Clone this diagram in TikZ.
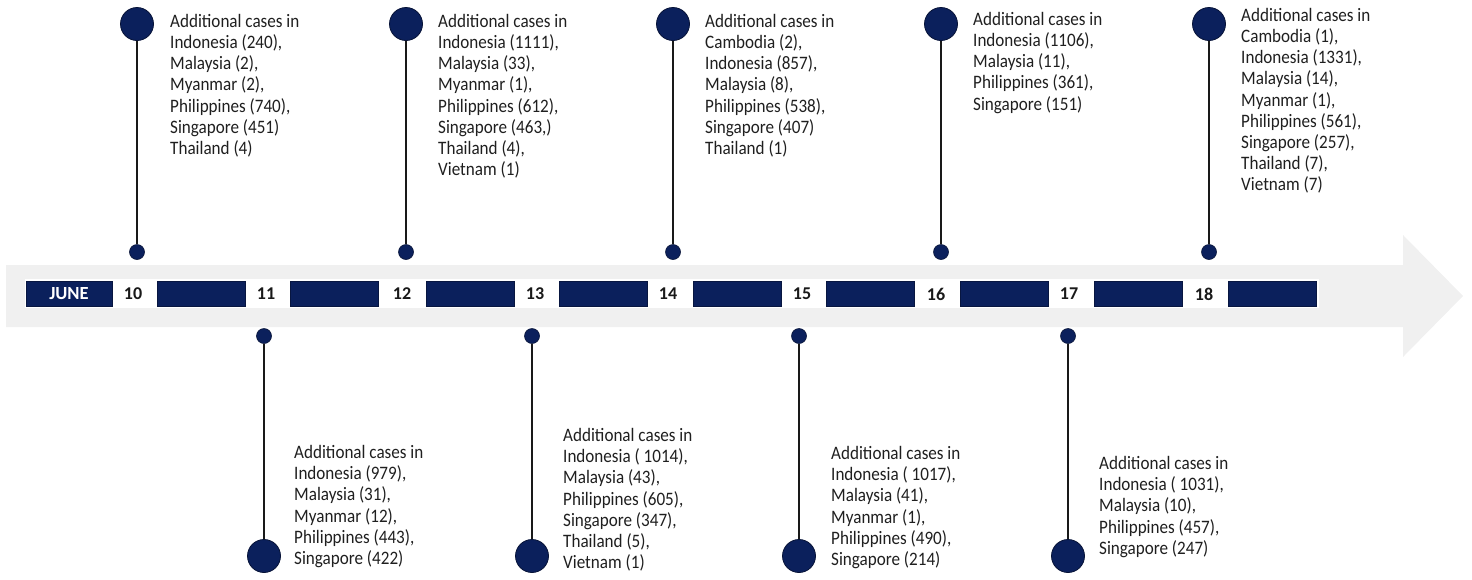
\documentclass[tikz,border=0pt]{standalone}
\usepackage{fontspec}
\setmainfont{Carlito}
\newfontfamily\bodyfont{Carlito}[FakeStretch=0.9]
\definecolor{navy}{RGB}{11,32,92}
\definecolor{band}{RGB}{240,240,240}
\begin{document}
\begin{tikzpicture}[x=1pt,y=-1pt,
  txt/.style={font=\bodyfont\fontsize{19}{21.2}\selectfont, align=left, anchor=north west, inner sep=0pt, text=black!88},
  daynum/.style={font=\bfseries\fontsize{18}{20}\selectfont, inner sep=0pt, text=black!90},
  bar/.style={fill=navy, draw=navy!70!black, line width=0.6pt, minimum width=88pt, minimum height=25pt, inner sep=0pt},
  bigdot/.style={circle, fill=navy, draw=navy!60!black, line width=0.8pt, minimum size=33pt, inner sep=0pt},
  smalldot/.style={circle, fill=navy, draw=navy!60!black, line width=0.6pt, minimum size=15pt, inner sep=0pt},
  stem/.style={line width=1.4pt, draw=black!90}]
\useasboundingbox (0,0) rectangle (1472,579);
% arrow band
\fill[band] (6,265) -- (1403,265) -- (1403,235) -- (1463,296) -- (1403,357) -- (1403,327) -- (6,327) -- cycle;
\fill[white] (25,279) rectangle (1319,308);
% bars
\node[bar, minimum width=86pt, text=white, font=\bfseries\fontsize{18.5}{20}\selectfont] (june) at (69,294) {JUNE};
\node[bar] (bar1) at (201,294) {};
\node[bar] (bar2) at (334,294) {};
\node[bar] (bar3) at (470,294) {};
\node[bar] (bar4) at (603,294) {};
\node[bar] (bar5) at (737,294) {};
\node[bar] (bar6) at (870,294) {};
\node[bar] (bar7) at (1004,294) {};
\node[bar] (bar8) at (1138,294) {};
\node[bar] (bar9) at (1272.5,294) {};
% day numbers
\node[daynum] (d10) at (133,294) {10};
\node[daynum] (d11) at (266,294) {11};
\node[daynum] (d12) at (402,294) {12};
\node[daynum] (d13) at (535,294) {13};
\node[daynum] (d14) at (668,294) {14};
\node[daynum] (d15) at (802,294) {15};
\node[daynum] (d16) at (936,294) {16};
\node[daynum] (d17) at (1069,294) {17};
\node[daynum] (d18) at (1204,294) {18};
% top stems
\foreach \n/\x in {10/137,12/406,14/673,16/941,18/1209}{
  \node[bigdot] (big\n) at (\x,24) {};
  \node[smalldot] (small\n) at (\x,252) {};
  \draw[stem] (big\n) -- (small\n);
}
% bottom stems
\foreach \n/\x in {11/264,13/532,15/799,17/1068}{
  \node[bigdot] (big\n) at (\x,556) {};
  \node[smalldot] (small\n) at (\x,336) {};
  \draw[stem] (small\n) -- (big\n);
}
% texts top
\node[txt] (t10) at (170,14) {Additional cases in\\Indonesia (240),\\Malaysia (2),\\Myanmar (2),\\Philippines (740),\\Singapore (451)\\Thailand (4)};
\node[txt] (t12) at (438,14) {Additional cases in\\Indonesia (1111),\\Malaysia (33),\\Myanmar (1),\\Philippines (612),\\Singapore (463,)\\Thailand (4),\\Vietnam (1)};
\node[txt] (t14) at (705,14) {Additional cases in\\Cambodia (2),\\Indonesia (857),\\Malaysia (8),\\Philippines (538),\\Singapore (407)\\Thailand (1)};
\node[txt] (t16) at (973,12) {Additional cases in\\Indonesia (1106),\\Malaysia (11),\\Philippines (361),\\Singapore (151)};
\node[txt] (t18) at (1241,8) {Additional cases in\\Cambodia (1),\\Indonesia (1331),\\Malaysia (14),\\Myanmar (1),\\Philippines (561),\\Singapore (257),\\Thailand (7),\\Vietnam (7)};
% texts bottom
\node[txt] (t11) at (294,445) {Additional cases in\\Indonesia (979),\\Malaysia (31),\\Myanmar (12),\\Philippines (443),\\Singapore (422)};
\node[txt] (t13) at (563,428) {Additional cases in\\Indonesia ( 1014),\\Malaysia (43),\\Philippines (605),\\Singapore (347),\\Thailand (5),\\Vietnam (1)};
\node[txt] (t15) at (831,446) {Additional cases in\\Indonesia ( 1017),\\Malaysia (41),\\Myanmar (1),\\Philippines (490),\\Singapore (214)};
\node[txt] (t17) at (1099,456) {Additional cases in\\Indonesia ( 1031),\\Malaysia (10),\\Philippines (457),\\Singapore (247)};
\end{tikzpicture}
\end{document}
